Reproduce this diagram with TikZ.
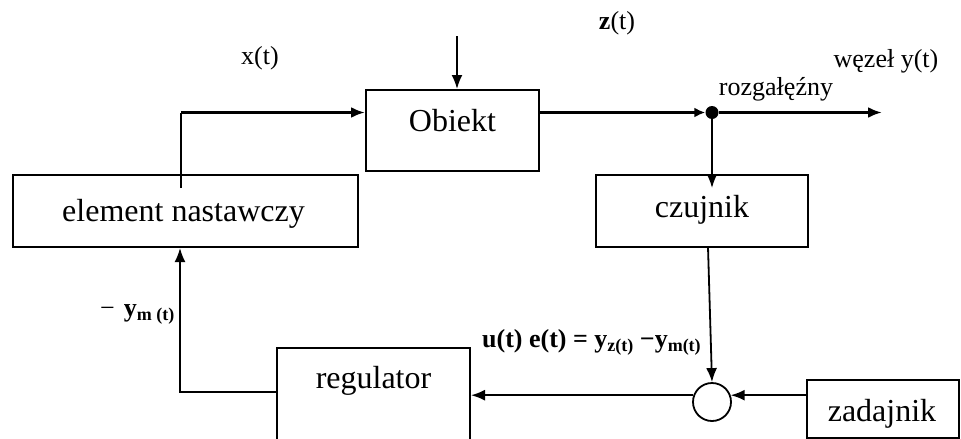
\documentclass[tikz,border=0pt]{standalone}
\usepackage{fontspec}
\setmainfont{Liberation Serif}
\usetikzlibrary{arrows.meta}
% lowered bold index for signal names
\newcommand\lowsub[1]{\raisebox{-4pt}{\fontsize{18}{20}\selectfont\bfseries #1}}
\begin{document}
\begin{tikzpicture}[x=1pt,y=-1pt,
  box/.style={draw, line width=2pt, rectangle, inner sep=0pt},
  wire/.style={line width=1.8pt},
  heavy/.style={line width=3.8pt},
  arr/.style={-{Latex[length=14pt,width=11pt]}},
  arrs/.style={-{Latex[length=11pt,width=10pt]}},
  big/.style={font=\fontsize{32}{38}\selectfont, inner sep=0pt, anchor=base},
  small/.style={font=\fontsize{26}{30}\selectfont, inner sep=0pt},
  lbl/.style={font=\fontsize{26}{30}\selectfont\bfseries, inner sep=0pt, anchor=base west},
]
\clip (0,0) rectangle (961,439);

% blocks
\node[box, minimum width=173pt, minimum height=81pt] (ob) at (452.5,130.5) {};
\node[big] (obt) at (452.5,131.5) {Obiekt};
\node[box, minimum width=345pt, minimum height=72pt] (en) at (185.3,211) {};
\node[big] (ent) at (183.5,221) {element nastawczy};
\node[box, minimum width=212pt, minimum height=72pt] (czu) at (702,211) {};
\node[big] (czut) at (702,217) {czujnik};
\node[box, minimum width=193pt, minimum height=112pt] (reg) at (373.5,404) {};
\node[big] (regt) at (373.5,388) {regulator};
\node[box, minimum width=152pt, minimum height=58pt] (zad) at (883,409) {};
\node[big] (zadt) at (882,421) {zadajnik};

% summing junction and branch point
\node[draw, circle, line width=1.8pt, minimum size=38pt, inner sep=0pt] (sum) at (712,402) {};
\node[circle, fill, minimum size=13pt, inner sep=0pt] (dot) at (712,112.5) {};

% free ends and corners
\coordinate (xin) at (181,188);
\coordinate (xc) at (181,112.5);
\coordinate (zin) at (457,36);
\coordinate (yend) at (882,112.5);
\coordinate (czin) at (712,188);
\coordinate (czout) at (708,247);
\coordinate (rc) at (180,392);

% signal paths
\draw[wire] (xin) -- (xc);
\draw[heavy, arr] (xc) -- (ob.west |- xc);
\draw[wire, arr] (zin) -- (zin |- ob.north);
\draw[heavy, arrs] (ob.east |- dot) -- (dot.west);
\draw[heavy, arr] (dot) -- (yend);
\draw[wire, arr] (dot) -- (czin);
\draw[wire, arr] (czout) -- (sum.north);
\draw[wire, arr] (zad.west |- sum.20) -- (sum.20);
\draw[wire, arr] (sum.160) -- (reg.east |- sum.160);
\draw[wire, arr] (reg.west |- rc) -- (rc) -- (rc |- en.south);

% labels
\node[small] (xt) at (260,58) {x(t)};
\node[small] (zt) at (617,23) {\textbf{z}(t)};
\node[small] (yt) at (886,61) {węzeł y(t)};
\node[small] (rz) at (776,89) {rozgałęźny};
\node[lbl] (ym) at (100,316) {\textmd{−}\hspace{9pt}y\lowsub{m (t)}};
\node[lbl] (eq) at (482,347) {u(t) e(t) = y\lowsub{z(t)} −y\lowsub{m(t)}};
\end{tikzpicture}
\end{document}
